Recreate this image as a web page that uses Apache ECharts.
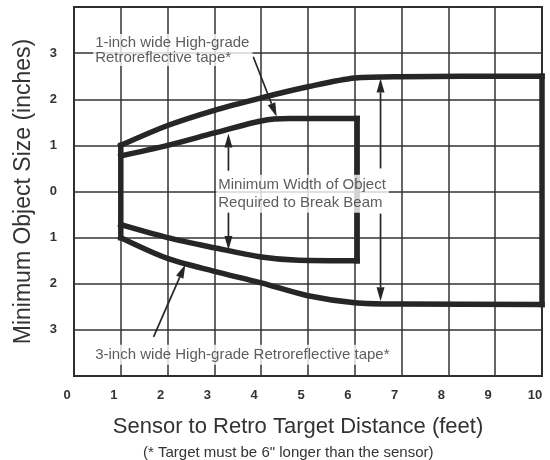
<!DOCTYPE html>
<html><head><meta charset="utf-8">
<script src="https://cdn.jsdelivr.net/npm/echarts@6/dist/echarts.min.js"></script>
<style>html,body{margin:0;padding:0;background:#fff}#c{width:550px;height:460px}</style>
</head><body><div id="c"></div>
<script>
// ---- data (feet, inches) ----
const xTicks = [0,1,2,3,4,5,6,7,8,9,10];
const xTickLabels = ['0','1','2','3','4','5','6','7','8','9','10'];
const yTicks = [-3,-2,-1,0,1,2,3];
const yTickLabels = ['3','2','1','0','1','2','3'];

// 3-inch wide tape (outer envelope)
const outerUpper = [[1,1.0],[2,1.43],[3,1.76],[4,2.03],[5,2.27],[6,2.46],[7,2.49],[10,2.5]];
const outerLower = [[1,-1.0],[2,-1.45],[3,-1.73],[4,-1.98],[5,-2.26],[6,-2.41],[7,-2.44],[10,-2.45]];
const outerRight = [[10,2.5],[10,-2.45]];
const leftEdge   = [[1,1.0],[1,-1.0]];
// 1-inch wide tape (inner envelope)
const innerUpper = [[1,0.77],[2,1.0],[3,1.27],[4,1.53],[4.6,1.58],[6.05,1.58]];
const innerLower = [[1,-0.72],[2,-1.0],[3,-1.22],[4,-1.42],[4.8,-1.49],[6.05,-1.5]];
const innerRight = [[6.05,1.58],[6.05,-1.5]];

// arrows: [fromX, fromY, toX, toY]
const arrows = [
  [3.83, 2.92, 4.33, 1.62],
  [1.70, -3.15, 2.38, -1.58],
  [3.30, 0.45, 3.30, 1.26],
  [3.30, -0.45, 3.30, -1.27],
  [6.55, 0.50, 6.55, 2.45],
  [6.55, -0.48, 6.55, -2.38]
];
// annotation texts: [x, y, text]
const notes = [
  [0.41, 3.07, '1-inch wide High-grade\nRetroreflective tape*'],
  [3.04, -0.05, 'Minimum Width of Object\nRequired to Break Beam'],
  [0.41, -3.54, '3-inch wide High-grade Retroreflective tape*']
];
const noteLineHeights = [15, 18, 18];

const FONT = '"Liberation Sans", Arial, Helvetica, sans-serif';
const INK = '#262626';

const chart = echarts.init(document.getElementById('c'), null, {renderer:'canvas'});

function thick(data, smooth){
  return {type:'line', data, smooth: smooth ? 0.3 : false, symbol:'none', z:3,
    lineStyle:{color:INK, width:5.5, cap:'square', join:'miter'}, silent:true};
}

const option = {
  backgroundColor:'#fff',
  animation:false,
  title:{
    text:'(* Target must be 6" longer than the sensor)',
    left:138, top:440,
    textStyle:{fontFamily:FONT, fontSize:15, fontWeight:'normal', color:'#333'}
  },
  grid:{left:74, right:8, top:7, bottom:84, show:true, borderColor:'#222', borderWidth:2, backgroundColor:'transparent'},
  xAxis:{
    type:'value', min:0, max:10, interval:1,
    axisLine:{show:false}, axisTick:{show:false},
    splitLine:{show:true, lineStyle:{color:'#333', width:1.5}},
    axisLabel:{
      margin:13, fontFamily:FONT, fontSize:13, fontWeight:'bold', color:'#333',
      padding:[0,14,0,0],
      formatter:v => { const i = xTicks.indexOf(v); return i>=0 ? xTickLabels[i] : ''; }
    },
    name:'Sensor to Retro Target Distance (feet)', nameLocation:'middle', nameGap:40,
    nameTextStyle:{fontFamily:FONT, fontSize:22, color:'#333', padding:[0,20,0,0]}
  },
  yAxis:{
    type:'value', min:-4, max:4, interval:1,
    axisLine:{show:false}, axisTick:{show:false},
    splitLine:{show:true, lineStyle:{color:'#333', width:1.5}},
    axisLabel:{
      margin:17, fontFamily:FONT, fontSize:13, fontWeight:'bold', color:'#333',
      formatter:v => { const i = yTicks.indexOf(v); return i>=0 ? yTickLabels[i] : ''; }
    },
    name:'Minimum Object Size (inches)', nameLocation:'middle', nameGap:39, nameRotate:90,
    nameTextStyle:{fontFamily:FONT, fontSize:23, color:'#333'}
  },
  series:[
    thick(outerUpper, true), thick(outerLower, true), thick(outerRight, false), thick(leftEdge, false),
    thick(innerUpper, true), thick(innerLower, true), thick(innerRight, false),
    {
      type:'custom', z:4, silent:true, data:arrows,
      encode:{x:[0,2], y:[1,3]},
      renderItem:function(params, api){
        const a = api.coord([api.value(0), api.value(1)]);
        const b = api.coord([api.value(2), api.value(3)]);
        const dx=b[0]-a[0], dy=b[1]-a[1], L=Math.hypot(dx,dy), ux=dx/L, uy=dy/L;
        const hl=14, hw=4;
        const base=[b[0]-ux*hl, b[1]-uy*hl];
        const nx=-uy, ny=ux;
        return {type:'group', children:[
          {type:'line', shape:{x1:a[0],y1:a[1],x2:base[0],y2:base[1]}, style:{stroke:INK, lineWidth:1.7}},
          {type:'polygon', shape:{points:[b,[base[0]+nx*hw, base[1]+ny*hw],[base[0]-nx*hw, base[1]-ny*hw]]}, style:{fill:INK}}
        ]};
      }
    },
    {
      type:'scatter', z:10, silent:true, symbolSize:0,
      data: notes.map((n,i) => ({value:[n[0], n[1]], label:{formatter:n[2], lineHeight:noteLineHeights[i]}})),
      label:{
        show:true, position:'right', distance:0, align:'left',
        fontFamily:FONT, fontSize:15, color:'#333',
        backgroundColor:'#fff', padding:[1,3,1,2]
      }
    }
  ]
};
chart.setOption(option);
</script>
</body></html>
